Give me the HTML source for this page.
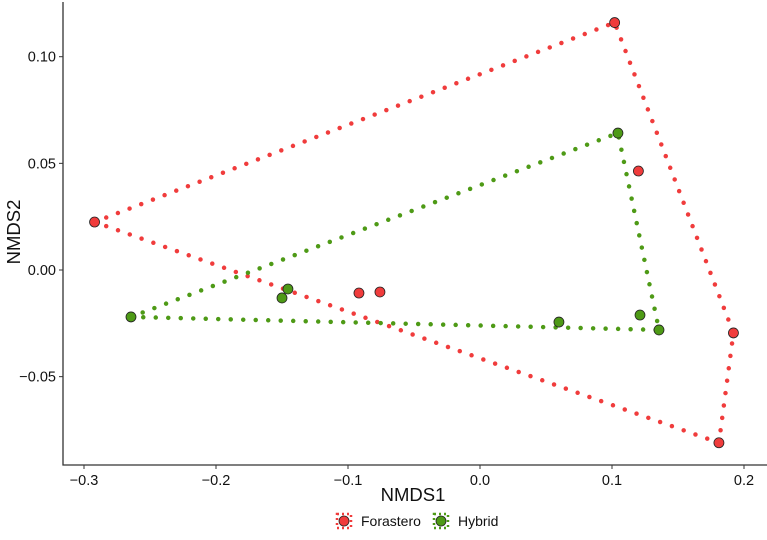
<!DOCTYPE html>
<html><head><meta charset="utf-8"><style>
body{margin:0;background:#fff;}
svg text{font-family:"Liberation Sans",Arial,sans-serif;}
</style></head><body>
<svg width="767" height="535" id="chart">
</svg>
<script>
const xTicks=[-0.3,-0.2,-0.1,0.0,0.1,0.2];
const yTicks=[0.10,0.05,0.00,-0.05];
const foraX=[-0.292,0.102,0.120,0.192,0.181,-0.0917,-0.0758];
const foraY=[0.0225,0.116,0.0464,-0.0295,-0.081,-0.0108,-0.0103];
const foraHull=[0,1,3,4];
const hybX=[-0.2644,-0.1455,-0.150,0.1045,0.1212,0.0598,0.1356];
const hybY=[-0.022,-0.0089,-0.0131,0.0642,-0.0211,-0.0244,-0.0281];
const hybHull=[0,3,6];
const NS='http://www.w3.org/2000/svg';
const svg=document.getElementById('chart');
const sx=v=>480+1320*v, sy=v=>270-2133*v;
function mk(tag,attrs,parent){const e=document.createElementNS(NS,tag);for(const k in attrs)e.setAttribute(k,attrs[k]);(parent||svg).appendChild(e);return e;}
let ax=mk('path',{d:'M63,2 V465 H767',fill:'none',stroke:'#333','stroke-width':1.3});


xTicks.forEach(v=>{
 let t=mk('line',{x1:sx(v),x2:sx(v),y1:465,y2:469,stroke:'#333'});
 
 
 let l=mk('text',{x:sx(v),y:485,'text-anchor':'middle','font-size':14.5,fill:'#111'});
 l.textContent=(v<0?'\u2212':'')+Math.abs(v).toFixed(1);
 
 
});
yTicks.forEach(v=>{
 let t=mk('line',{x1:59,x2:63,y1:sy(v),y2:sy(v),stroke:'#333'});
 
 
 let l=mk('text',{x:56,y:sy(v)+5,'text-anchor':'end','font-size':14.5,fill:'#111'});
 l.textContent=(v<0?'\u2212':'')+Math.abs(v).toFixed(2);
 
 
});
let xt=mk('text',{x:413,y:501,'text-anchor':'middle','font-size':18.5,fill:'#111'});xt.textContent='NMDS1';


let yt=mk('text',{x:0,y:0,'text-anchor':'middle','font-size':18.5,fill:'#111',transform:'translate(20,232) rotate(-90)'});yt.textContent='NMDS2';


function series(X,Y,hull,col,name){
 const pts=hull.map(i=>sx(X[i])+','+sy(Y[i])).join(' ');
 let h=mk('polygon',{points:pts,fill:'none',stroke:col,'stroke-width':4.5,'stroke-linecap':'round','stroke-dasharray':'0 12.5'});
 
 
 X.forEach((x,i)=>{
  let c=mk('circle',{cx:sx(x),cy:sy(Y[i]),r:5,fill:col,stroke:'#222','stroke-width':0.8});
  
  
 });
}
series(foraX,foraY,foraHull,'#f03c3c','forastero');
series(hybX,hybY,hybHull,'#4e9a16','hybrid');
function leg(x,col,label,nm){
 let g=mk('g',{});
 
 
 mk('rect',{x:x-7,y:514,width:14,height:14,fill:'none',stroke:col,'stroke-width':2.5,'stroke-dasharray':'2 3'},g);
 mk('circle',{cx:x,cy:521,r:5,fill:col,stroke:'#222','stroke-width':0.8},g);
 let t=mk('text',{x:x+17,y:526,'font-size':14,fill:'#111'},g);t.textContent=label;
}
leg(344,'#f03c3c','Forastero','forastero');
leg(441,'#4e9a16','Hybrid','hybrid');
</script>
</body></html>
